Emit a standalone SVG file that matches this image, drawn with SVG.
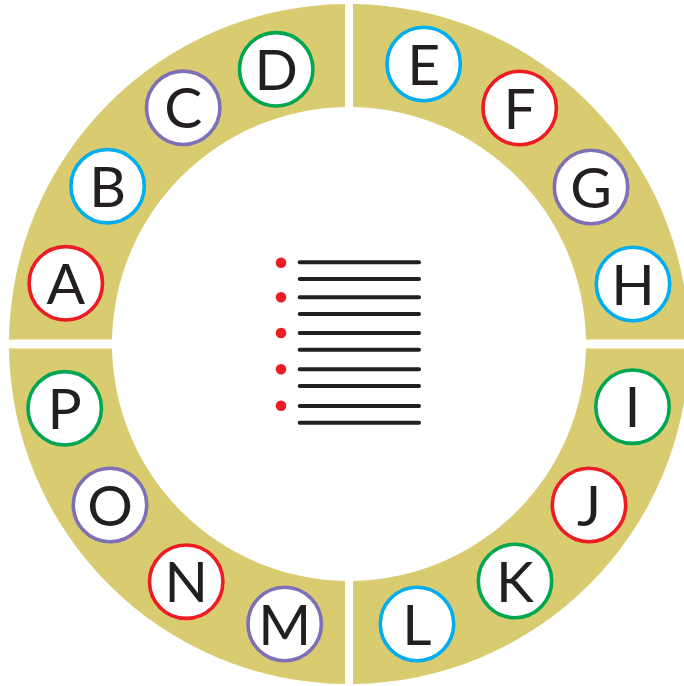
<svg xmlns="http://www.w3.org/2000/svg" width="684" height="686" viewBox="0 0 684 686">
<style>
.ring{fill:#D8CB70}
.node circle{fill:#fff;stroke-width:3.6}
.node text{font-family:Lato,"Liberation Sans",sans-serif;font-size:57px;fill:#231F20;text-anchor:middle}
.r circle{stroke:#ED1C24}
.b circle{stroke:#00AEEF}
.g circle{stroke:#00A651}
.p circle{stroke:#7F70B6}
.ln{stroke:#231F20;stroke-width:4;stroke-linecap:round}
.dot{fill:#ED1C24}
</style>
<rect width="684" height="686" fill="#fff"/>
<g id="ring">
<path class="ring" d="M345 4.02 A340 340 0 0 0 9.03 339.5 L112.04 339.5 A237 237 0 0 1 345 107.03 Z"/>
<path class="ring" d="M353 4.02 L353 107.03 A237 237 0 0 1 585.96 339.5 L688.97 339.5 A340 340 0 0 0 353 4.02 Z"/>
<path class="ring" d="M688.97 348.5 A340 340 0 0 1 353 683.98 L353 580.97 A237 237 0 0 0 585.96 348.5 Z"/>
<path class="ring" d="M345 683.98 A340 340 0 0 1 9.03 348.5 L112.04 348.5 A237 237 0 0 0 345 580.97 Z"/>
</g>
<g id="connectors"></g>
<g id="nodeA" class="node r"><circle cx="65.8" cy="283.3" r="36.7"/><text x="65.8" y="303.8">A</text></g>
<g id="nodeB" class="node b"><circle cx="107.6" cy="186.2" r="36.7"/><text x="107.6" y="206.7">B</text></g>
<g id="nodeC" class="node p"><circle cx="183.2" cy="107.8" r="36.7"/><text x="183.2" y="128.3">C</text></g>
<g id="nodeD" class="node g"><circle cx="276.2" cy="69.3" r="36.7"/><text x="276.2" y="89.8">D</text></g>
<g id="nodeE" class="node b"><circle cx="423.7" cy="64" r="36.7"/><text x="423.7" y="84.5">E</text></g>
<g id="nodeF" class="node r"><circle cx="519.7" cy="108" r="36.7"/><text x="519.7" y="128.5">F</text></g>
<g id="nodeG" class="node p"><circle cx="591" cy="187" r="36.7"/><text x="591" y="207.5">G</text></g>
<g id="nodeH" class="node b"><circle cx="633" cy="284" r="36.7"/><text x="633" y="304.5">H</text></g>
<g id="nodeI" class="node g"><circle cx="632.5" cy="406.7" r="36.7"/><text x="632.5" y="427.2">I</text></g>
<g id="nodeJ" class="node r"><circle cx="589" cy="505" r="36.7"/><text x="589" y="525.5">J</text></g>
<g id="nodeK" class="node g"><circle cx="515" cy="581" r="36.7"/><text x="515" y="601.5">K</text></g>
<g id="nodeL" class="node b"><circle cx="417" cy="624" r="36.7"/><text x="417" y="644.5">L</text></g>
<g id="nodeM" class="node p"><circle cx="284.7" cy="624" r="36.7"/><text x="284.7" y="644.5">M</text></g>
<g id="nodeN" class="node r"><circle cx="186.2" cy="581.7" r="36.7"/><text x="186.2" y="602.2">N</text></g>
<g id="nodeO" class="node p"><circle cx="110" cy="505" r="36.7"/><text x="110" y="525.5">O</text></g>
<g id="nodeP" class="node g"><circle cx="64.7" cy="408.3" r="36.7"/><text x="64.7" y="428.8">P</text></g>
<g id="list">
<circle class="dot" cx="281" cy="262.7" r="5.3"/>
<circle class="dot" cx="281" cy="297.3" r="5.3"/>
<circle class="dot" cx="281" cy="333" r="5.3"/>
<circle class="dot" cx="281" cy="369.3" r="5.3"/>
<circle class="dot" cx="281" cy="405.7" r="5.3"/>
<line class="ln" x1="299.7" y1="262.3" x2="419" y2="262.3"/>
<line class="ln" x1="299.7" y1="279" x2="419" y2="279"/>
<line class="ln" x1="299.7" y1="297.3" x2="419" y2="297.3"/>
<line class="ln" x1="299.7" y1="314" x2="419" y2="314"/>
<line class="ln" x1="299.7" y1="333" x2="419" y2="333"/>
<line class="ln" x1="299.7" y1="349.7" x2="419" y2="349.7"/>
<line class="ln" x1="299.7" y1="369.3" x2="419" y2="369.3"/>
<line class="ln" x1="299.7" y1="386" x2="419" y2="386"/>
<line class="ln" x1="299.7" y1="406" x2="419" y2="406"/>
<line class="ln" x1="299.7" y1="422.7" x2="419" y2="422.7"/>
</g>
</svg>
